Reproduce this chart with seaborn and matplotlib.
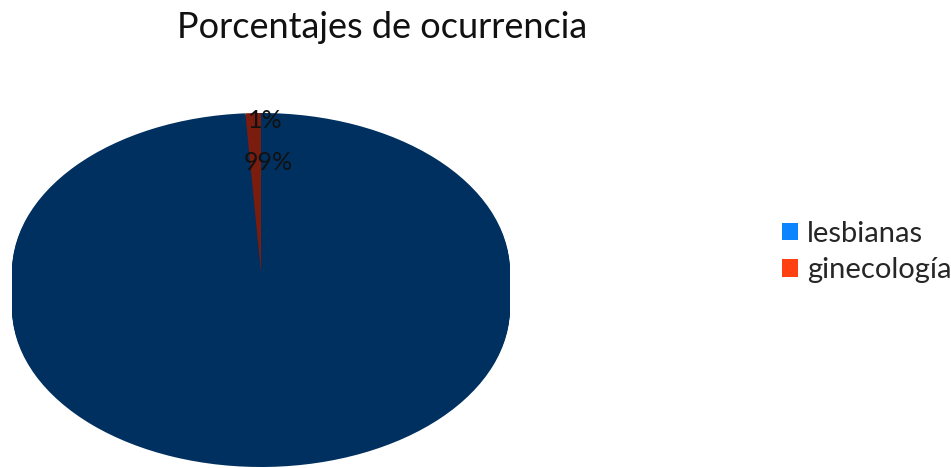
import matplotlib
matplotlib.use('Agg')
import matplotlib.pyplot as plt
from matplotlib.patches import Patch
import seaborn as sns

# Datos del gráfico
categorias = ['lesbianas', 'ginecología']
valores = [99, 1]
etiquetas = ['99%', '1%']
colores_pie = ['#00305f', '#7a1c0e']
colores_lado = ['#00305f', '#6a180c']
colores_leyenda = ['#0a84ff', '#ff4010']

sns.set_theme(style='white')
plt.rcParams['font.family'] = ['Lato', 'DejaVu Sans']

W, H = 951, 468
fig = plt.figure(figsize=(W / 100, H / 100), dpi=100)

# eje del pastel: elipse con profundidad
a_px, b_px, d_px = 249, 159, 36
izq, abajo = 12, 1
ax = fig.add_axes([izq / W, abajo / H, 2 * a_px / W, (2 * b_px + d_px) / H])
prof = d_px / b_px

# paredes laterales (pasteles apilados hacia abajo)
pasos = 30
for i in range(pasos, 0, -1):
    dy = -prof * i / pasos
    ax.pie(valores, colors=colores_lado, startangle=90, counterclock=False,
           center=(0, dy), radius=1, frame=True,
           wedgeprops=dict(linewidth=0))

# cara superior
ax.pie(valores, colors=colores_pie, startangle=90, counterclock=False,
       center=(0, 0), radius=1, frame=True,
       wedgeprops=dict(linewidth=0))

ax.set_xlim(-1, 1)
ax.set_ylim(-1 - prof, 1)
ax.set_aspect('auto')
ax.axis('off')

# etiquetas de porcentaje cerca de la parte superior
ax.text(0.016, 0.95, etiquetas[1], ha='center', va='center', fontsize=18,
        color='#111111')
ax.text(0.028, 0.69, etiquetas[0], ha='center', va='center', fontsize=18,
        color='#111111')

fig.text(382 / W, 1 - 27 / H, 'Porcentajes de ocurrencia', ha='center', va='center',
         fontsize=26, color='#111111')

handles = [Patch(facecolor=c, edgecolor='none') for c in colores_leyenda]
fig.legend(handles, categorias, loc='center left', bbox_to_anchor=(756 / W, 1 - 252 / H),
           frameon=False, prop=dict(size=21), handlelength=0.55,
           handleheight=0.55, handletextpad=0.3, labelspacing=0.35)

fig.savefig('out.png', dpi=100)
